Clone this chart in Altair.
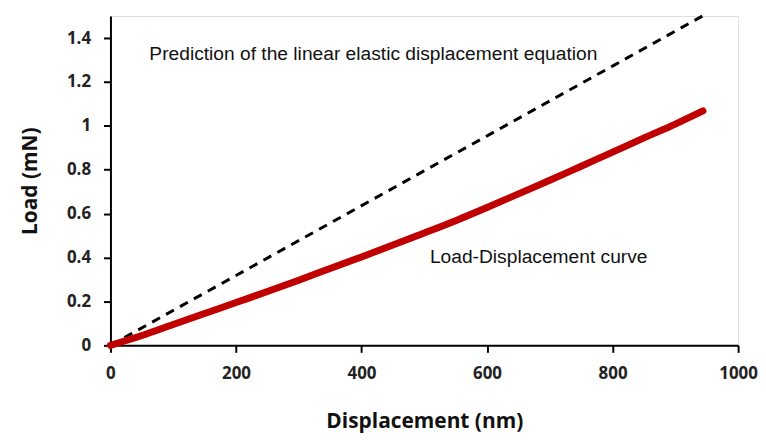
import altair as alt
import pandas as pd

# Measured load-displacement curve
disp = [0, 50, 100, 150, 200, 250, 300, 350, 400, 450, 500, 550, 600, 650, 700, 750, 800, 850, 900, 944]
load = [0.0, 0.045, 0.095, 0.145, 0.195, 0.245, 0.297, 0.35, 0.403, 0.457, 0.512, 0.568, 0.628, 0.69, 0.752, 0.816, 0.88, 0.945, 1.008, 1.068]

# Linear elastic prediction
pred_disp = [0, 943]
pred_load = [0.0, 1.5]

# Annotations
ann_text = ["Prediction of the linear elastic displacement equation", "Load-Displacement curve"]
ann_x = [62, 509]
ann_y = [1.326, 0.402]

curve = pd.DataFrame({"x": disp, "y": load})
pred = pd.DataFrame({"x": pred_disp, "y": pred_load})
ann = pd.DataFrame({"t": ann_text, "x": ann_x, "y": ann_y})

xs = alt.Scale(domain=[0, 1000], nice=False)
ys = alt.Scale(domain=[0, 1.5], nice=False)

common = dict(grid=False, domainColor="black", domainWidth=2, tickColor="black", tickWidth=2,
              tickSize=7, labelFont="Open Sans", labelFontWeight="bold", labelFontSize=17,
              labelColor="#222", labelFlush=False, titleFont="Open Sans", titleFontWeight="bold",
              titleFontSize=21, titleColor="#111")

xaxis = alt.Axis(title="Displacement (nm)", values=[0, 200, 400, 600, 800, 1000], format="d",
                 labelPadding=13, titlePadding=30, **common)
yaxis = alt.Axis(title="Load (mN)", values=[0, 0.2, 0.4, 0.6, 0.8, 1.0, 1.2, 1.4],
                 labelPadding=13, titlePadding=26,
                 labelExpr="datum.value == 1 ? '1' : format(datum.value, '.1~f')", **common)

line_pred = alt.Chart(pred).mark_line(color="black", strokeWidth=3, strokeDash=[9, 7]).encode(
    x=alt.X("x:Q", scale=xs, axis=xaxis),
    y=alt.Y("y:Q", scale=ys, axis=yaxis),
)
line_curve = alt.Chart(curve).mark_line(color="#C00000", strokeWidth=7, strokeCap="round",
                                         interpolate="monotone").encode(
    x=alt.X("x:Q", scale=xs),
    y=alt.Y("y:Q", scale=ys),
)
text = alt.Chart(ann).mark_text(align="left", baseline="middle", font="Liberation Sans",
                                fontSize=19.3, color="#111").encode(
    x=alt.X("x:Q", scale=xs),
    y=alt.Y("y:Q", scale=ys),
    text="t:N",
)

chart = (line_pred + line_curve + text).properties(
    width=631, height=331,
    autosize=alt.AutoSizeParams(type="none"),
    padding={"left": 103, "top": 7, "right": 20, "bottom": 92},
).configure_view(stroke="black", strokeWidth=2).configure(background="white")

chart.save("out.html", embed_options={"renderer": "svg", "actions": False})
